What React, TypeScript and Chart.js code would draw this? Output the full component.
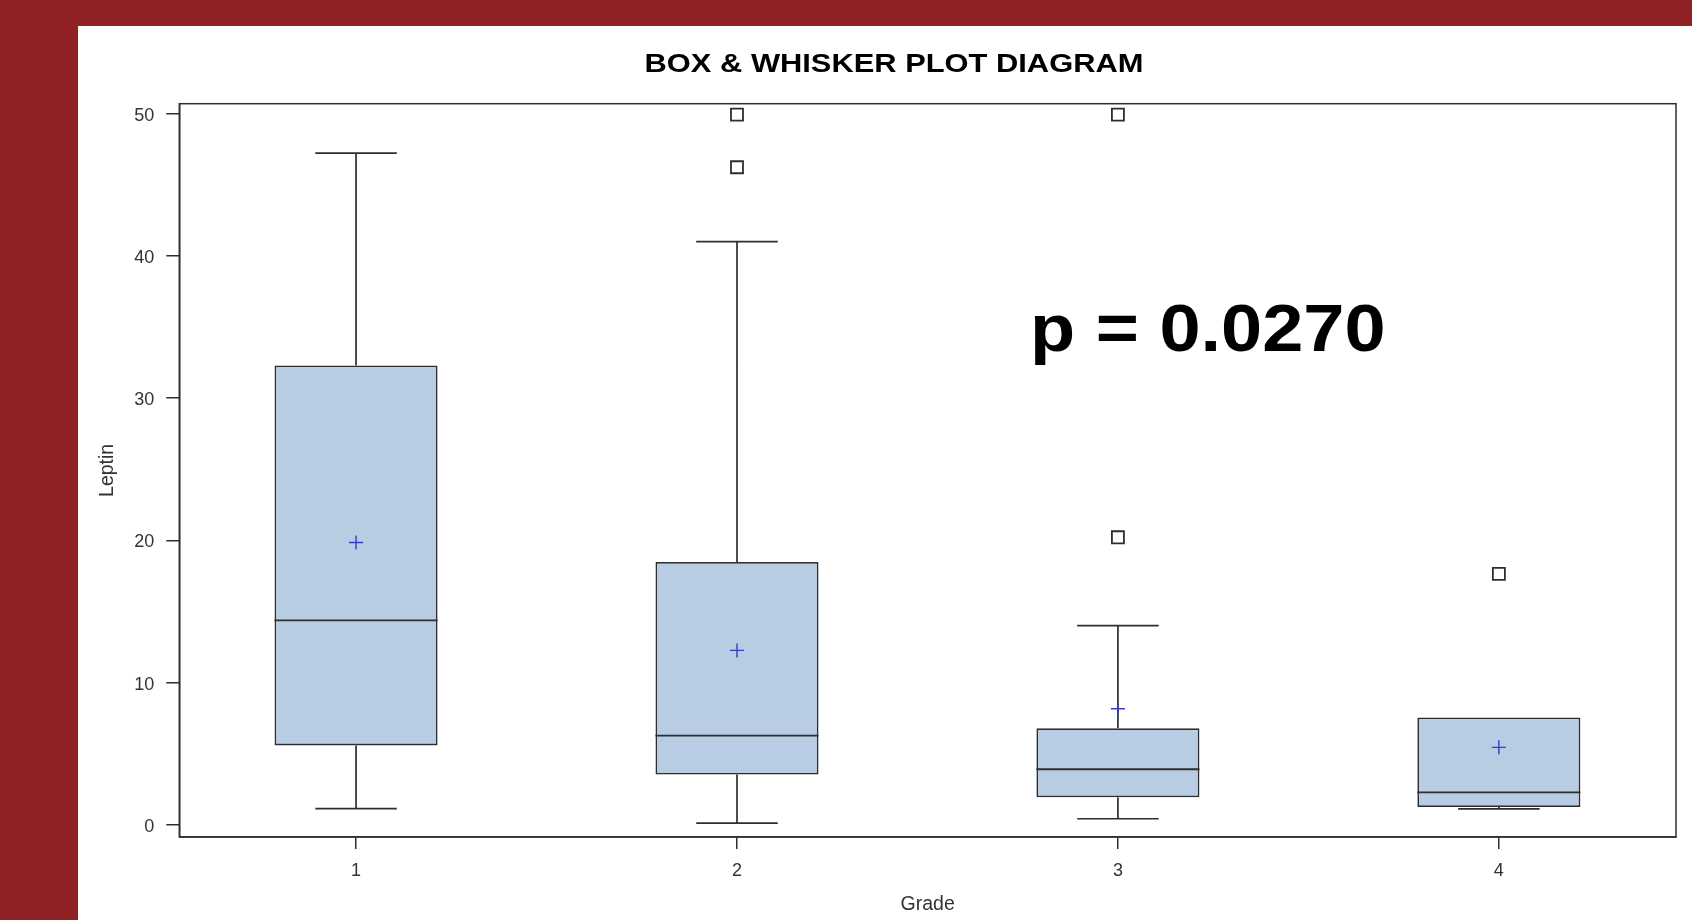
import { useEffect, useRef } from "react";
import { Chart, registerables } from "chart.js";

Chart.register(...registerables);

// Leptin by tumour grade: five-number summaries, means and outliers
const GRADES = [1, 2, 3, 4];
const WHISKER_LOW = [1.13, 0.11, 0.42, 1.12];
const Q1 = [5.58, 3.53, 1.93, 1.24];
const MEDIAN = [14.38, 6.27, 3.9, 2.27];
const Q3 = [32.3, 18.48, 6.79, 7.55];
const WHISKER_HIGH = [47.24, 41.02, 14.0, 7.55];
const MEAN = [19.85, 12.26, 8.16, 5.44];
const OUTLIER_GRADE = [2, 2, 3, 3, 4];
const OUTLIER_VALUE = [49.95, 46.25, 49.95, 20.22, 17.65];
const Y_TICKS = [0, 10, 20, 30, 40, 50];

const TITLE = "BOX & WHISKER PLOT DIAGRAM";
const P_LABEL = "p = 0.0270";
const X_TITLE = "Grade";
const Y_TITLE = "Leptin";

const FONT = "'Liberation Sans', Arial, Helvetica, sans-serif";
const INK = "#2e2e2e";
const BOX_FILL = "#b8cce4";
const MEAN_COLOR = "#3a3ac4";

// box width as a fraction of the spacing between grades; caps are half of it
const BOX_FRACTION = 0.428;
const CAP_HALF = BOX_FRACTION / 4;
const BOX_HALF = BOX_FRACTION / 2;

const GAP = (x: number) => ({ x, y: null as number | null });

function whiskerPoints() {
  const pts: { x: number; y: number | null }[] = [];
  GRADES.forEach((g, i) => {
    // a whisker that ends on the box edge has nothing to draw
    if (WHISKER_HIGH[i] > Q3[i]) {
      pts.push({ x: g, y: Q3[i] }, { x: g, y: WHISKER_HIGH[i] }, GAP(g));
      pts.push({ x: g - CAP_HALF, y: WHISKER_HIGH[i] }, { x: g + CAP_HALF, y: WHISKER_HIGH[i] }, GAP(g));
    }
    if (WHISKER_LOW[i] < Q1[i]) {
      pts.push({ x: g, y: Q1[i] }, { x: g, y: WHISKER_LOW[i] }, GAP(g));
      pts.push({ x: g - CAP_HALF, y: WHISKER_LOW[i] }, { x: g + CAP_HALF, y: WHISKER_LOW[i] }, GAP(g));
    }
  });
  return pts;
}

function medianPoints() {
  const pts: { x: number; y: number | null }[] = [];
  GRADES.forEach((g, i) => {
    pts.push({ x: g - BOX_HALF, y: MEDIAN[i] }, { x: g + BOX_HALF, y: MEDIAN[i] }, GAP(g));
  });
  return pts;
}

// plot frame plus the heading and the p-value annotation
const decorations = {
  id: "decorations",
  afterDraw(chart: any) {
    const { ctx, chartArea: a } = chart;
    ctx.save();
    ctx.strokeStyle = INK;
    ctx.lineWidth = 1.5;
    ctx.strokeRect(a.left, a.top, a.right - a.left, a.bottom - a.top);

    ctx.fillStyle = "#000";
    ctx.textBaseline = "alphabetic";

    ctx.save();
    ctx.font = `bold 25.5px ${FONT}`;
    ctx.textAlign = "center";
    ctx.translate(816, 46.3);
    ctx.scale(1.21, 1);
    ctx.fillText(TITLE, 0, 0);
    ctx.restore();

    ctx.save();
    ctx.font = `bold 66px ${FONT}`;
    ctx.textAlign = "left";
    ctx.translate(952, 324.7);
    ctx.scale(1.12, 1);
    ctx.fillText(P_LABEL, 0, 0);
    ctx.restore();

    ctx.restore();
  },
};

export default function App() {
  const ref = useRef<HTMLCanvasElement>(null);

  useEffect(() => {
    const canvas = ref.current;
    if (!canvas) return;
    const chart = new Chart(canvas, {
      type: "bar",
      data: {
        datasets: [
          {
            type: "scatter",
            label: "Mean",
            data: GRADES.map((g, i) => ({ x: g, y: MEAN[i] })),
            pointStyle: "cross",
            pointRadius: 7,
            borderColor: MEAN_COLOR,
            backgroundColor: MEAN_COLOR,
            pointBorderWidth: 1.4,
            order: 0,
          } as any,
          {
            type: "scatter",
            label: "Outliers",
            data: OUTLIER_GRADE.map((g, i) => ({ x: g, y: OUTLIER_VALUE[i] })),
            pointStyle: "rect",
            pointRadius: 8.5,
            borderColor: INK,
            backgroundColor: "rgba(255,255,255,0)",
            pointBorderWidth: 1.8,
            order: 0,
          } as any,
          {
            type: "line",
            label: "Median",
            data: medianPoints(),
            borderColor: INK,
            borderWidth: 1.8,
            pointRadius: 0,
            spanGaps: false,
            order: 1,
          } as any,
          {
            type: "bar",
            label: "IQR",
            data: GRADES.map((g, i) => ({ x: g, y: [Q1[i], Q3[i]] })),
            backgroundColor: BOX_FILL,
            borderColor: INK,
            borderWidth: 1.8,
            borderSkipped: false,
            barPercentage: BOX_FRACTION,
            categoryPercentage: 1,
            order: 2,
          } as any,
          {
            type: "line",
            label: "Whiskers",
            data: whiskerPoints(),
            borderColor: INK,
            borderWidth: 1.7,
            pointRadius: 0,
            spanGaps: false,
            order: 3,
          } as any,
        ],
      },
      options: {
        animation: false,
        responsive: false,
        devicePixelRatio: 1,
        layout: { padding: { left: 0, right: 16, top: 77.7, bottom: 0 } },
        plugins: {
          legend: { display: false },
          tooltip: { enabled: false },
          title: { display: false },
        },
        scales: {
          x: {
            type: "linear",
            min: 0.536,
            max: 4.465,
            offset: false,
            afterBuildTicks: (s: any) => {
              s.ticks = GRADES.map((v) => ({ value: v }));
            },
            afterFit: (s: any) => {
              s.height = 83;
            },
            ticks: {
              font: { family: FONT, size: 18 },
              color: "#333",
              padding: 11,
              maxRotation: 0,
              autoSkip: false,
              callback: (v: any) => String(v),
            },
            grid: {
              offset: false,
              drawOnChartArea: false,
              drawTicks: true,
              tickLength: 12,
              color: INK,
              lineWidth: 1.5,
            },
            border: { display: true, color: INK, width: 1.5 },
            title: {
              display: true,
              text: X_TITLE,
              color: "#333",
              font: { family: FONT, size: 19.5 },
              padding: { top: 0, bottom: 3.8 },
            },
          },
          y: {
            type: "linear",
            min: -0.865,
            max: 50.72,
            afterBuildTicks: (s: any) => {
              s.ticks = Y_TICKS.map((v) => ({ value: v }));
            },
            afterFit: (s: any) => {
              s.width = 101.3;
            },
            ticks: {
              font: { family: FONT, size: 18 },
              color: "#333",
              padding: 12,
              labelOffset: 2,
              autoSkip: false,
              callback: (v: any) => String(v),
            },
            grid: {
              drawOnChartArea: false,
              drawTicks: true,
              tickLength: 13,
              color: INK,
              lineWidth: 1.5,
            },
            border: { display: true, color: INK, width: 1.5 },
            title: {
              display: true,
              text: Y_TITLE,
              color: "#333",
              font: { family: FONT, size: 19.5 },
              padding: { top: 18.3, bottom: 0 },
            },
          },
        },
      } as any,
      plugins: [decorations],
    });
    return () => chart.destroy();
  }, []);

  return (
    <div style={{ position: "fixed", inset: 0, background: "#8f2024", overflow: "hidden" }}>
      <div
        style={{
          position: "absolute",
          left: 78,
          top: 26,
          width: 1614,
          height: 894,
          background: "#ffffff",
        }}
      >
        <canvas
          ref={ref}
          width={1614}
          height={894}
          style={{ display: "block", width: 1614, height: 894 }}
        />
      </div>
    </div>
  );
}
